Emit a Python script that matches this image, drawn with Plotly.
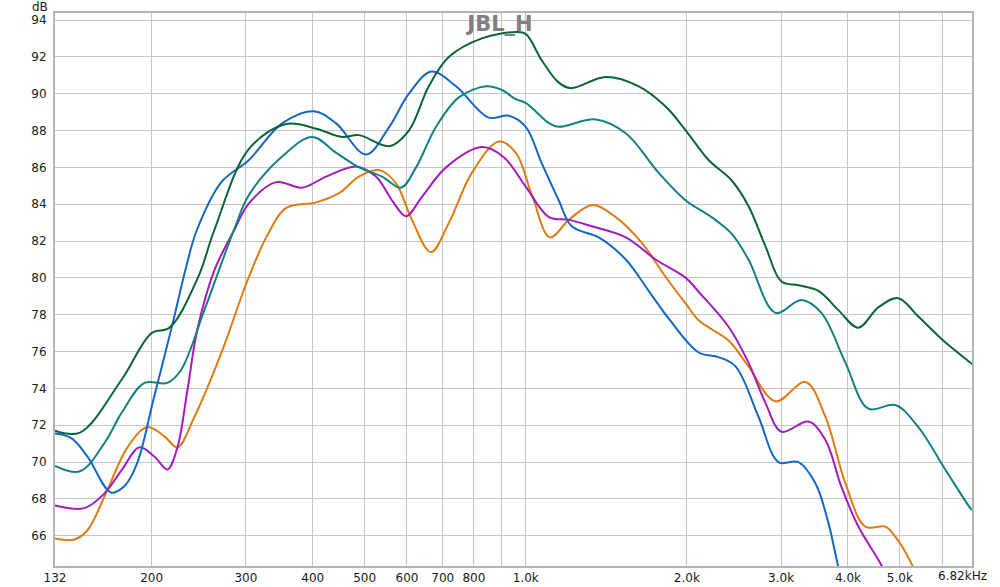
import numpy as np
import plotly.graph_objects as go

# ---- data (frequency in Hz, level in dB) ----
green_f = [132, 147, 176, 200, 216, 244, 262, 304, 357, 406, 454, 488, 556, 605, 659, 719, 828, 958, 1000,
           1072, 1153, 1214, 1411, 1626, 1826, 1991, 2196, 2424, 2607, 2806, 3005, 3233, 3523, 3839, 4183,
           4558, 4967, 5414, 6079, 6769, 6820]
green_db = [71.7, 71.6, 74.5, 77.0, 77.3, 80.0, 82.6, 87.0, 88.35, 88.1, 87.65, 87.75, 87.15, 88.0, 90.4, 92.0,
            93.0, 93.35, 93.25, 91.8, 90.6, 90.3, 90.9, 90.4, 89.3, 88.0, 86.4, 85.3, 83.9, 81.7, 79.8, 79.6,
            79.3, 78.25, 77.3, 78.4, 78.9, 77.9, 76.5, 75.4, 75.3]

teal_f = [132, 147, 163, 176, 194, 214, 227, 251, 285, 304, 351, 399, 442, 488, 539, 585, 624, 680, 750, 843,
          903, 958, 1000, 1105, 1153, 1352, 1538, 1772, 1991, 2224, 2424, 2607, 2929, 3275, 3568, 3956, 4367,
          4904, 5414, 6079, 6769, 6820]
teal_db = [69.8, 69.5, 71.0, 72.7, 74.3, 74.3, 75.0, 78.25, 82.6, 84.5, 86.6, 87.65, 86.8, 86.0, 85.5, 84.9,
           86.0, 88.2, 89.8, 90.4, 90.2, 89.7, 89.5, 88.4, 88.2, 88.6, 87.85, 85.7, 84.2, 83.3, 82.4, 81.0,
           78.1, 78.8, 78.1, 75.4, 72.9, 73.1, 71.9, 69.6, 67.5, 67.4]

blue_f = [132, 141.6, 151.8, 168, 178, 188, 202, 218, 233, 243, 270, 304, 351, 402, 442, 503, 556, 605, 667,
          741, 853, 930, 1000, 1072, 1153, 1219, 1369, 1538, 1697, 1849, 2104, 2292, 2466, 2723, 2967, 3233,
          3477, 3677, 3839, 4000]
blue_db = [71.55, 71.3, 70.3, 68.35, 68.7, 69.95, 73.5, 77.3, 80.8, 82.6, 85.2, 86.4, 88.4, 89.05, 88.4, 86.7,
           88.2, 90.0, 91.2, 90.4, 88.7, 88.8, 88.2, 86.2, 84.2, 82.8, 82.2, 81.0, 79.3, 77.8, 75.95, 75.7,
           75.2, 72.45, 70.0, 70.0, 68.85, 66.7, 64.3, 62.5]

orange_f = [132, 143.5, 151.8, 165.4, 180.3, 196.4, 211.3, 223.5, 240.4, 269.8, 294.1, 304, 327.5, 357, 406,
            448, 488, 532, 572, 613, 665, 719, 793, 891, 958, 1027, 1110, 1204, 1329, 1473, 1648, 1826, 1991,
            2104, 2393, 2607, 2929, 3332, 3630, 3956, 4311, 4698, 4904, 5254, 5600]
orange_db = [65.85, 65.8, 66.3, 68.5, 70.8, 71.9, 71.4, 70.8, 72.45, 75.9, 78.95, 80.05, 82.2, 83.8, 84.1,
             84.6, 85.5, 85.85, 85.15, 83.15, 81.4, 83.0, 85.7, 87.4, 86.8, 84.5, 82.2, 83.15, 83.95, 83.3,
             81.9, 80.05, 78.6, 77.7, 76.6, 75.2, 73.3, 74.35, 72.45, 68.85, 66.5, 66.5, 65.95, 64.5, 62.5]

purple_f = [132, 149.8, 163.3, 175.7, 189.8, 202.4, 214.1, 223.5, 233.3, 243.5, 261.9, 285.4, 304, 342, 382,
            424, 482, 525, 563, 597.5, 640, 710, 828, 910, 1000, 1105, 1204, 1329, 1538, 1749, 1991, 2104,
            2393, 2607, 2806, 3005, 3375, 3630, 3889, 4183, 4558, 4800]
purple_db = [67.65, 67.5, 68.3, 69.55, 70.8, 70.3, 69.6, 70.8, 73.9, 77.2, 80.4, 82.6, 84.05, 85.2, 84.9,
             85.5, 86.05, 85.5, 84.2, 83.35, 84.4, 86.0, 87.1, 86.55, 84.95, 83.3, 83.15, 82.8, 82.2, 81.0,
             80.0, 79.25, 77.35, 75.4, 73.2, 71.65, 72.2, 71.2, 68.65, 66.5, 64.7, 63.5]

x_tickvals = [132, 200, 300, 400, 500, 600, 700, 800, 900, 1000, 2000, 3000, 4000, 5000, 6000]
x_ticktext = ['132', '200', '300', '400', '500', '600', '700', '800', '', '1.0k', '2.0k', '3.0k', '4.0k',
              '5.0k', '']
y_tickvals = list(range(66, 95, 2))
x_min, x_max = 132, 6820
y_min, y_max = 64.36, 94.38
title_text = "JBL_H"
x_end_label = "6.82kHz"
y_unit = "dB"

series = [
    (orange_f, orange_db, '#e07b14'),
    (purple_f, purple_db, '#a31bbf'),
    (blue_f, blue_db, '#1467c6'),
    (teal_f, teal_db, '#13827c'),
    (green_f, green_db, '#0b6438'),
]

fig = go.Figure()
for f, db, c in series:
    fig.add_trace(go.Scatter(x=f, y=db, mode='lines',
                             line=dict(color=c, width=2, shape='spline', smoothing=1.0),
                             hoverinfo='skip', showlegend=False))

font_main = dict(family='DejaVu Sans', size=12, color='#1a1a1a')

fig.update_layout(
    width=1000, height=587,
    margin=dict(l=55, r=28, t=13, b=21, autoexpand=False),
    paper_bgcolor='white', plot_bgcolor='white',
    showlegend=False,
    title=dict(text=title_text, x=0.5, xref='container', xanchor='center',
               y=1 - 24 / 587, yref='container', yanchor='middle', automargin=False,
               font=dict(family='DejaVu Sans', size=21, color='#808080', weight='bold')),
    xaxis=dict(type='log', range=[np.log10(x_min), np.log10(x_max)],
               tickvals=x_tickvals, ticktext=x_ticktext, tickfont=font_main,
               showgrid=True, gridcolor='#c6c6c6', gridwidth=1, automargin=False,
               showline=True, mirror=True, linecolor='#b4b4b4', linewidth=2,
               ticks='', zeroline=False, ticklabelstandoff=0),
    yaxis=dict(range=[y_min, y_max], tickvals=y_tickvals, tickfont=font_main,
               showgrid=True, gridcolor='#c6c6c6', gridwidth=1, automargin=False,
               showline=True, mirror=True, linecolor='#b4b4b4', linewidth=2,
               ticks='', zeroline=False, ticklabelstandoff=4),
)

# darker 1 kHz gridline
fig.add_shape(type='line', xref='x', yref='paper', x0=np.log10(1000), x1=np.log10(1000), y0=0, y1=1,
              line=dict(color='#8a8a8a', width=1), layer='below')

fig.add_annotation(text=x_end_label, xref='x', yref='paper', x=np.log10(x_max), y=0,
                   xanchor='center', yanchor='top', xshift=-10, yshift=-1, showarrow=False, font=font_main)
fig.add_annotation(text=y_unit, xref='paper', yref='paper', x=0, y=1, xanchor='right', yanchor='middle',
                   xshift=-5, yshift=6, showarrow=False, font=font_main)

fig.write_html("out.html", config={'displayModeBar': False},
               post_script="document.body.style.margin='0';document.body.style.overflow='hidden';")
